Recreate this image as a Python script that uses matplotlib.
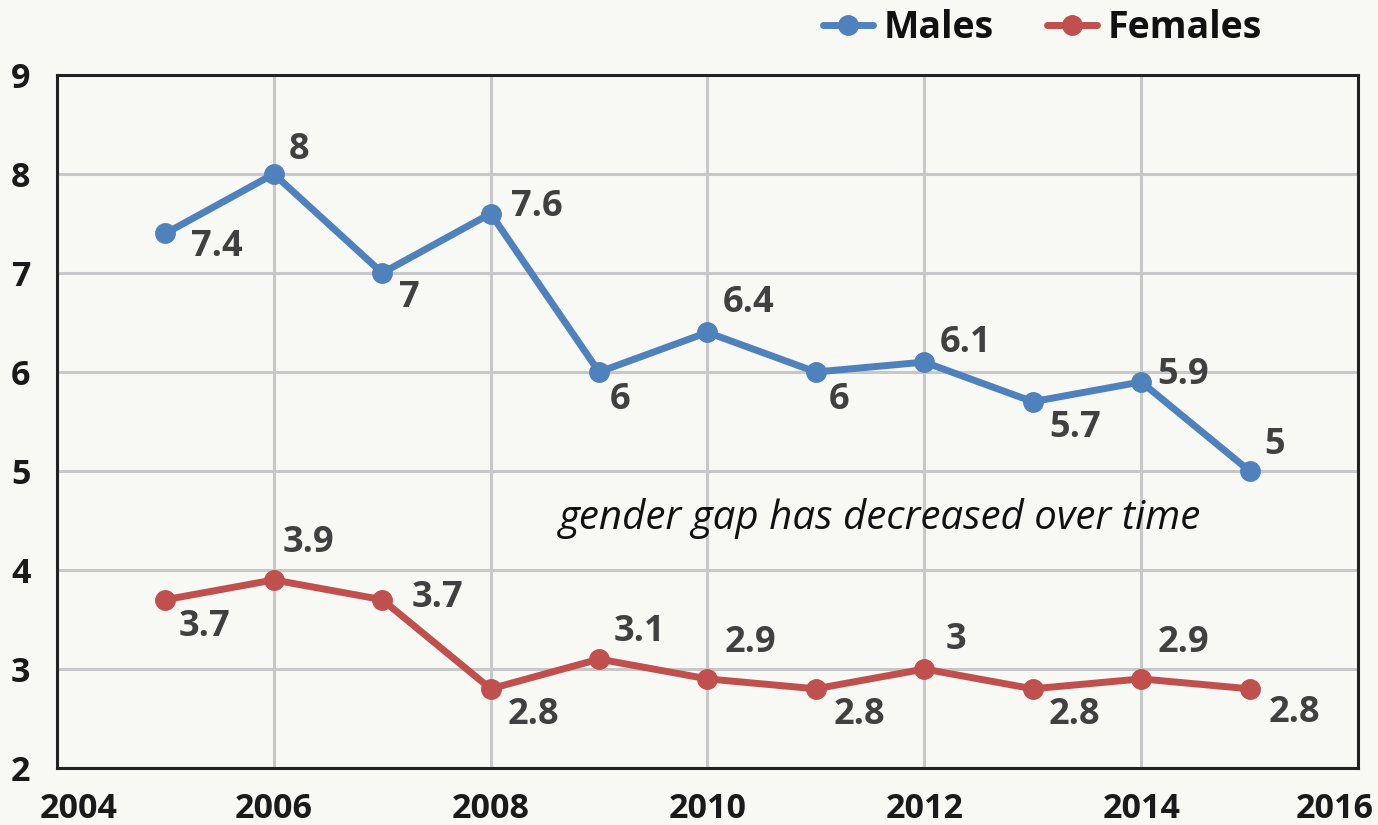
import numpy as np
import matplotlib.pyplot as plt
import matplotlib.transforms as mtransforms

# datos
years = [2005, 2006, 2007, 2008, 2009, 2010, 2011, 2012, 2013, 2014, 2015]
males = [7.4, 8, 7, 7.6, 6, 6.4, 6, 6.1, 5.7, 5.9, 5]
females = [3.7, 3.9, 3.7, 2.8, 3.1, 2.9, 2.8, 3, 2.8, 2.9, 2.8]
x_ticks = [2004, 2006, 2008, 2010, 2012, 2014, 2016]
y_ticks = [2, 3, 4, 5, 6, 7, 8, 9]
note = 'gender gap has decreased over time'

# where each value label sits relative to its point (pixels, right / down)
males_off = [(51, 14), (25, -24), (27, 25), (46, -7), (21, 28), (41, -29),
             (23, 28), (41, -19), (42, 26), (42, -7), (25, -26)]
females_off = [(39, 27), (35, -37), (55, -2), (43, 26), (40, -27), (43, -36),
               (43, 26), (32, -29), (42, 26), (42, -36), (45, 24)]

blue = '#4f81bd'
red = '#c0504d'
bg = '#f8f8f4'
label_col = '#404040'

plt.rcParams['font.family'] = ['Open Sans', 'DejaVu Sans']

fig = plt.figure(figsize=(13.78, 8.25), dpi=100, facecolor=bg)
ax = fig.add_axes([57 / 1378, 1 - 768 / 825, 1301 / 1378, 693 / 825])
ax.set_facecolor(bg)

ax.plot(years, males, color=blue, lw=5, marker='o', ms=14, label='Males',
        solid_capstyle='round', zorder=3)
ax.plot(years, females, color=red, lw=5, marker='o', ms=14, label='Females',
        solid_capstyle='round', zorder=3)

# etiquetas de datos
for serie, offs in [(males, males_off), (females, females_off)]:
    for x, y, (dx, dy) in zip(years, serie, offs):
        ax.annotate(f'{y:g}', (x, y), xytext=(dx, -dy), textcoords='offset pixels',
                    ha='center', va='center', fontsize=26, fontweight='bold',
                    color=label_col, zorder=4)

ax.text(2011.59, 4.525, note, ha='center', va='center', fontsize=29,
        style='italic', color='#111111')

ax.set_xlim(2004, 2016)
ax.set_ylim(2, 9)
ax.set_xticks(x_ticks)
ax.set_yticks(y_ticks)
ax.grid(True, color='#c8c8c8', lw=2.2, zorder=0)
ax.set_axisbelow(True)
for s in ax.spines.values():
    s.set_linewidth(2.2)
    s.set_color('#222222')

ax.tick_params(length=0, labelsize=24.5, labelcolor='#1a1a1a')
ax.tick_params(axis='x', pad=17)
ax.tick_params(axis='y', pad=19)
for lab in ax.get_xticklabels() + ax.get_yticklabels():
    lab.set_fontweight('bold')

# Excel empuja las etiquetas de los extremos hacia dentro
xl = ax.get_xticklabels()
xl[0].set_transform(xl[0].get_transform() +
                    mtransforms.ScaledTranslation(21.5 / 100, 0, fig.dpi_scale_trans))
xl[-1].set_transform(xl[-1].get_transform() +
                     mtransforms.ScaledTranslation(-23.5 / 100, 0, fig.dpi_scale_trans))

leg = fig.legend(loc='center right', bbox_to_anchor=(1262 / 1378, 1 - 28 / 825),
                 ncol=2, frameon=False, borderaxespad=0, borderpad=0,
                 handlelength=1.33, handletextpad=0.3, columnspacing=1.4,
                 numpoints=1, prop={'size': 27, 'weight': 'bold'})
for t in leg.get_texts():
    t.set_color('#111111')

fig.savefig('out.png', dpi=100, facecolor=bg)
